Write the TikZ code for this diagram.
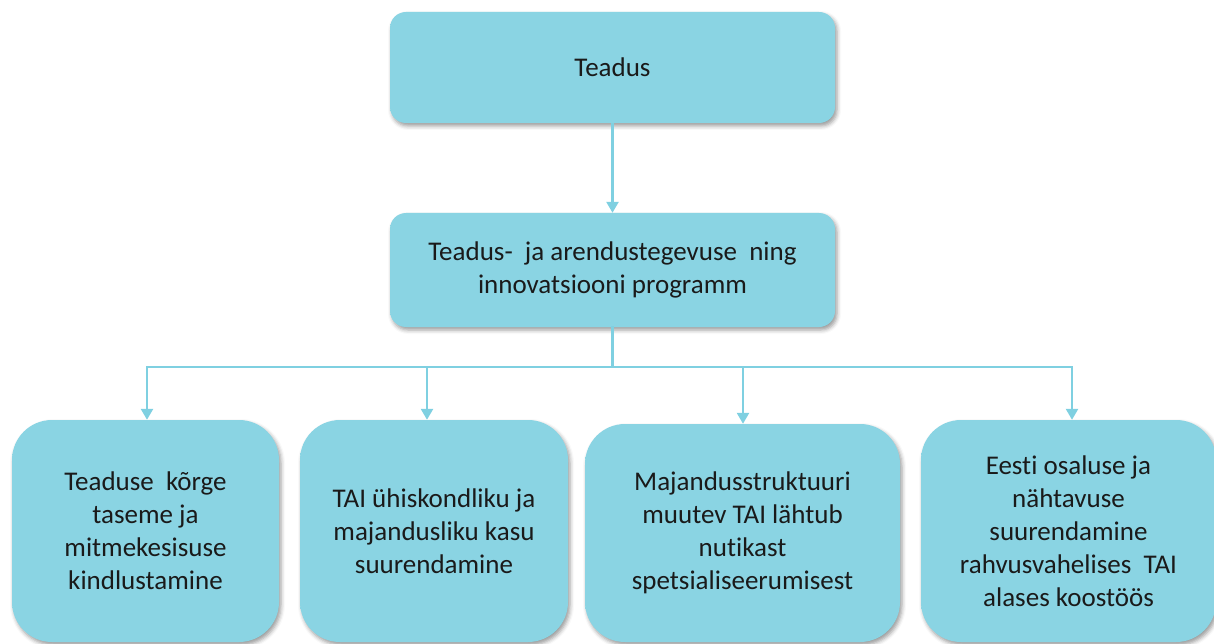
\documentclass[tikz,border=0pt]{standalone}
\usepackage{fontspec}
\setmainfont{Carlito}[Ligatures=NoCommon]
\usetikzlibrary{arrows.meta,shadows.blur}
\definecolor{boxbase}{HTML}{8AD4E3}
\definecolor{boxlight}{HTML}{B4F2F9}
\definecolor{connclr}{HTML}{7FD0E1}
\definecolor{txt}{HTML}{1A1A1A}
\pgfdeclareverticalshading{bevtop}{100bp}{color(0bp)=(boxbase!85!white); color(5bp)=(boxbase); color(90bp)=(boxbase); color(100bp)=(boxlight)}
\pgfdeclareverticalshading{bevbot}{100bp}{color(0bp)=(boxbase!85!white); color(3bp)=(boxbase); color(95bp)=(boxbase); color(100bp)=(boxlight)}
\begin{document}
\begin{tikzpicture}[x=1pt,y=-1pt,
  box/.style={rounded corners=16pt, align=center, text=txt,
    font=\fontsize{27}{33}\selectfont, inner sep=0pt,
    blur shadow={shadow xshift=2pt, shadow yshift=-3pt, shadow blur radius=4pt, shadow opacity=40},
    shade, shading=bevtop},
  lowbox/.style={box, rounded corners=40pt, shading=bevbot},
  conn/.style={draw=connclr, line width=2.5pt, -{Triangle[width=12pt,length=11pt]}},
  link/.style={draw=connclr, line width=2.5pt, line cap=rect}]
\useasboundingbox (0,0) rectangle (1214,644);
\clip (0,0) rectangle (1214,644);

\node[box, minimum width=445pt, minimum height=111pt] (teadus) at (612.5,67.5) {Teadus};
\node[box, minimum width=445pt, minimum height=114pt] (prog) at (612.5,270)
  {Teadus-\ \ ja arendustegevuse\ \ ning\\innovatsiooni programm};

\node[lowbox, minimum width=267pt, minimum height=222pt] (A) at (145.5,531)
  {Teaduse\ \ kõrge\\taseme ja\\mitmekesisuse\\kindlustamine};
\node[lowbox, minimum width=268pt, minimum height=222pt] (B) at (434,531)
  {TAI ühiskondliku ja\\majandusliku kasu\\suurendamine};
\node[lowbox, minimum width=315pt, minimum height=218pt] (C) at (742.5,533)
  {Majandusstruktuuri\\muutev TAI lähtub\\nutikast\\spetsialiseerumisest};
\node[lowbox, minimum width=295pt, minimum height=222pt] (D) at (1068.5,531)
  {Eesti osaluse ja\\nähtavuse\\suurendamine\\rahvusvahelises\ \ TAI\\alases koostöös};

\coordinate (hub) at (612.5,367);
\coordinate (jA) at (147,367);
\coordinate (jB) at (427,367);
\coordinate (jC) at (743,367);
\coordinate (jD) at (1072,367);

\draw[conn] (teadus) -- (prog);
\draw[link] (prog.south) -- (hub);
\draw[link] (jA) -- (jD);
\draw[conn] (jA) -- (jA |- A.north);
\draw[conn] (jB) -- (jB |- B.north);
\draw[conn] (jC) -- (jC |- C.north);
\draw[conn] (jD) -- (jD |- D.north);
\end{tikzpicture}
\end{document}
